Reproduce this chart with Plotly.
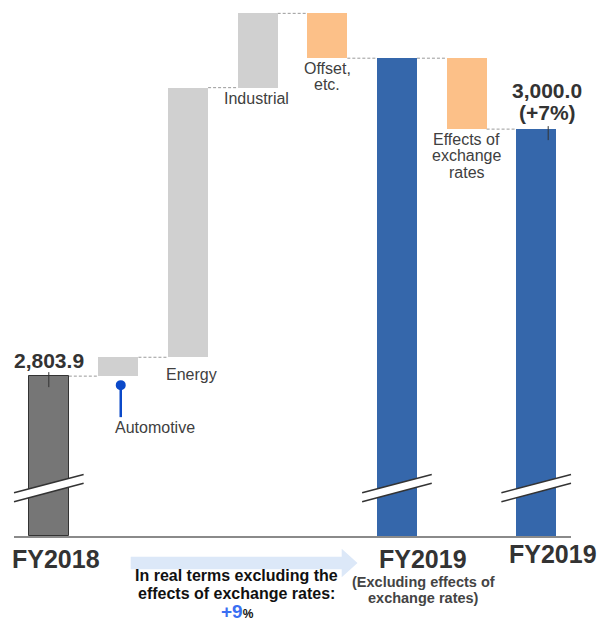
import plotly.graph_objects as go

# ---------------- data ----------------
categories = ["FY2018", "Automotive", "Energy", "Industrial", "Offset, etc.",
              "FY2019 (Excluding effects of exchange rates)",
              "Effects of exchange rates", "FY2019"]
kinds = ["total", "delta", "delta", "delta", "delta", "total", "delta", "total"]
values = [2803.9, 15.0, 214.0, 59.0, -35.6, 3056.3, -56.3, 3000.0]
bar_colors = ["#767676", "#d0d0d0", "#d0d0d0", "#d0d0d0", "#fcc088",
              "#3567ab", "#fcc088", "#3567ab"]
start_label = "2,803.9"
end_label_lines = ["3,000.0", "(+7%)"]
real_growth = "+9"

# ---------------- layout constants ----------------
W, H = 601, 623
L, R, T, B = 14, 30, 0, 87
PW, PH = W - L - R, H - T - B
Y_MIN, Y_MAX = 2677.0, 3102.5
K = PH / (Y_MAX - Y_MIN)          # px per value unit
XU = PW / len(categories)         # px per category unit
FONT = "Arial, Liberation Sans, sans-serif"
TXT = "#404040"

def px_x(px):
    return (px - L) / PW

def px_y(py):
    return (H - B - py) / PH

# ---------------- compute bars ----------------
x = list(range(len(categories)))
bases, heights, tops, bottoms = [], [], [], []
running = None
for kind, v in zip(kinds, values):
    if kind == "total":
        bases.append(Y_MIN)
        heights.append(v - Y_MIN)
        running = v
        tops.append(v)
        bottoms.append(Y_MIN)
    else:
        bases.append(running)
        heights.append(v)
        tops.append(max(running, running + v))
        bottoms.append(min(running, running + v))
        running = running + v

fig = go.Figure()
fig.add_trace(go.Bar(
    x=x, y=heights, base=bases, width=0.575,
    marker=dict(color=bar_colors,
                line=dict(color=["#333333"] + ["rgba(0,0,0,0)"] * 7,
                          width=[1] + [0] * 7)),
    hoverinfo="skip",
))

shapes = []
annotations = []
HW = 0.575 / 2

# connectors
levels = []
run = None
for i, (kind, v) in enumerate(zip(kinds, values)):
    run = v if kind == "total" else run + v
    levels.append(run)
for i in range(len(categories) - 1):
    shapes.append(dict(type="line", xref="x", yref="y",
                       x0=i + HW, x1=i + 1 - HW, y0=levels[i], y1=levels[i],
                       line=dict(color="#9a9a9a", width=1, dash="3px,2px"),
                       layer="below"))

# axis breaks on total bars
for i, kind in enumerate(kinds):
    if kind != "total":
        continue
    xl, xr = px_x(L + (i) * XU), px_x(L + (i + 1) * XU)
    yl_up, yr_up = px_y(492.7), px_y(474.5)
    yl_lo, yr_lo = px_y(501.7), px_y(483.3)
    shapes.append(dict(type="path", xref="paper", yref="paper",
                       path=f"M {xl},{yl_up} L {xr},{yr_up} L {xr},{yr_lo} L {xl},{yl_lo} Z",
                       fillcolor="white", line=dict(width=0), layer="above"))
    for (a, b) in [(yl_up, yr_up), (yl_lo, yr_lo)]:
        shapes.append(dict(type="line", xref="paper", yref="paper",
                           x0=xl, x1=xr, y0=a, y1=b,
                           line=dict(color="#333333", width=1.5), layer="above"))

# value ticks
shapes.append(dict(type="line", xref="x", yref="y", x0=0, x1=0,
                   y0=values[0] + 4 / K, y1=values[0] - 11 / K,
                   line=dict(color="#333333", width=1)))
shapes.append(dict(type="line", xref="x", yref="y", x0=7 + 12 / XU, x1=7 + 12 / XU,
                   y0=values[7] + 3 / K, y1=values[7] - 11 / K,
                   line=dict(color="#333333", width=1)))

# automotive pin
pin_x = 1 + 2.3 / XU
shapes.append(dict(type="line", xref="x", yref="y", x0=pin_x, x1=pin_x,
                   y0=bottoms[1] - 9 / K, y1=bottoms[1] - 41 / K,
                   line=dict(color="#0b49c9", width=2.5)))
shapes.append(dict(type="circle", xref="x", yref="y",
                   x0=pin_x - 5 / XU, x1=pin_x + 5 / XU,
                   y0=bottoms[1] - 14 / K, y1=bottoms[1] - 4 / K,
                   fillcolor="#0b49c9", line=dict(width=0)))

# arrow
ax0, ax1, ax2 = px_x(130.7), px_x(341.7), px_x(357.5)
s_top, s_bot = px_y(556.7), px_y(569.3)
h_top, h_bot, h_mid = px_y(548.7), px_y(577.3), px_y(563)
shapes.append(dict(type="path", xref="paper", yref="paper",
                   path=(f"M {ax0},{s_top} L {ax1},{s_top} L {ax1},{h_top} L {ax2},{h_mid} "
                         f"L {ax1},{h_bot} L {ax1},{s_bot} L {ax0},{s_bot} Z"),
                   fillcolor="#dce8f8", line=dict(width=0), layer="below"))

def ann_bar(i, text, yval, yshift, xshift=0, size=16, bold=False, color=TXT):
    annotations.append(dict(
        x=i, y=yval, xref="x", yref="y", text=f"<b>{text}</b>" if bold else text,
        showarrow=False, xanchor="center", yanchor="middle",
        xshift=xshift, yshift=yshift,
        font=dict(family=FONT, size=size, color=color)))

def ann_px(cx, cy, text, size=16, bold=False, color=TXT):
    annotations.append(dict(
        x=px_x(cx), y=px_y(cy), xref="paper", yref="paper",
        text=f"<b>{text}</b>" if bold else text,
        showarrow=False, xanchor="center", yanchor="middle",
        font=dict(family=FONT, size=size, color=color)))

# value labels
ann_bar(0, start_label, values[0], 15.6, 0, size=21, bold=True, color="#333333")
ann_bar(7, end_label_lines[0], values[7], 38.6, 11, size=21, bold=True, color="#333333")
ann_bar(7, end_label_lines[1], values[7], 17.1, 11, size=21, bold=True, color="#333333")

# category labels
ann_bar(1, "Automotive", bottoms[1], -51, 36.6)
ann_bar(2, "Energy", bottoms[2], -16.8, 3)
ann_bar(3, "Industrial", bottoms[3], -11.3, -1.6)
ann_bar(4, "Offset,", bottoms[4], -10.6, 0)
ann_bar(4, "etc.", bottoms[4], -26.3, 0)
ann_bar(6, "Effects of", bottoms[6], -10.4, 0)
ann_bar(6, "exchange", bottoms[6], -26.4, 0)
ann_bar(6, "rates", bottoms[6], -42.9, 0)

# bottom labels
ann_px(56, 559, "FY2018", size=25, bold=True, color="#333333")
ann_px(422.5, 559, "FY2019", size=25, bold=True, color="#333333")
ann_px(553, 554.3, "FY2019", size=25, bold=True, color="#333333")
ann_px(423.2, 581.5, "(Excluding effects of", size=14.5, bold=True, color="#444444")
ann_px(423.2, 597.5, "exchange rates)", size=14.5, bold=True, color="#444444")
ann_px(236, 575.3, "In real terms excluding the", size=16, bold=True, color="#111111")
ann_px(236, 593.3, "effects of exchange rates:", size=16, bold=True, color="#111111")
annotations.append(dict(
    x=px_x(237), y=px_y(623), xref="paper", yref="paper",
    text=(f"<b><span style='color:#3a6ff2;font-size:19px'>{real_growth}</span>"
          f"<span style='font-size:12px'>%</span></b>"),
    showarrow=False, xanchor="center", yanchor="bottom", borderpad=0,
    font=dict(family=FONT, size=12, color="#111111")))

fig.update_layout(
    width=W, height=H,
    margin=dict(l=L, r=R, t=T, b=B, autoexpand=False),
    paper_bgcolor="white", plot_bgcolor="white",
    showlegend=False, hovermode=False,
    xaxis=dict(range=[-0.5, len(categories) - 0.5], showticklabels=False,
               showgrid=False, zeroline=False, ticks="",
               showline=True, linecolor="#8a8a8a", linewidth=1.5, fixedrange=True),
    yaxis=dict(range=[Y_MIN, Y_MAX], visible=False, fixedrange=True),
    shapes=shapes, annotations=annotations,
    bargap=0,
)

fig.write_html("out.html", config={"displayModeBar": False})
